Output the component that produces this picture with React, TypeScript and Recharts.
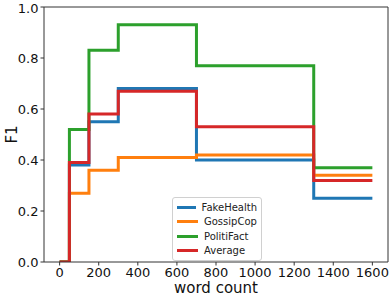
import React from 'react';
import { LineChart, Line, XAxis, YAxis, Legend, ReferenceLine } from 'recharts';

const wordCounts = [0, 50, 150, 300, 700, 1300, 1600];
const fakeHealth = [0, 0.38, 0.55, 0.68, 0.40, 0.25, 0.25];
const gossipCop = [0, 0.27, 0.36, 0.41, 0.42, 0.34, 0.34];
const politiFact = [0, 0.52, 0.83, 0.93, 0.77, 0.37, 0.37];
const average = [0, 0.39, 0.58, 0.67, 0.53, 0.32, 0.32];

const xTicks = [0, 200, 400, 600, 800, 1000, 1200, 1400, 1600];
const yTicks = [0, 0.2, 0.4, 0.6, 0.8, 1.0];

const SERIES = [
  { key: 'fakeHealth', name: 'FakeHealth', color: '#1f77b4' },
  { key: 'gossipCop', name: 'GossipCop', color: '#ff7f0e' },
  { key: 'politiFact', name: 'PolitiFact', color: '#2ca02c' },
  { key: 'average', name: 'Average', color: '#d62728' },
];

const data = wordCounts.map((x, i) => ({
  x,
  fakeHealth: fakeHealth[i],
  gossipCop: gossipCop[i],
  politiFact: politiFact[i],
  average: average[i],
}));

const X_DOMAIN = [-80, 1680];
const FONT = '"DejaVu Sans", sans-serif';
const AXIS = '#333';

const renderLegend = () => (
  <div
    style={{
      border: '1px solid #d0d0d0',
      borderRadius: 3,
      background: 'rgba(255,255,255,0.8)',
      padding: '2px 4px',
      fontFamily: FONT,
      fontSize: 10,
      color: '#222',
      boxSizing: 'border-box',
      width: 90,
    }}
  >
    {SERIES.map((s) => (
      <div key={s.key} style={{ display: 'flex', alignItems: 'center', height: 14.5 }}>
        <span style={{ display: 'inline-block', width: 21, height: 3, background: s.color, marginRight: 6 }} />
        <span>{s.name}</span>
      </div>
    ))}
  </div>
);

export default function App() {
  return (
    <div style={{ position: 'absolute', left: 0, top: 0, background: '#fff' }}>
      <LineChart width={390} height={298} data={data} margin={{ top: 7, right: 2, bottom: 0, left: 0 }}>
        <XAxis
          dataKey="x"
          type="number"
          domain={X_DOMAIN}
          ticks={xTicks}
          allowDataOverflow
          stroke={AXIS}
          tickSize={3.5}
          tick={{ fill: '#111', fontSize: 13, fontFamily: FONT }}
          height={36}
          label={({ viewBox }: any) => (
            <text
              x={viewBox.x + viewBox.width / 2}
              y={293}
              textAnchor="middle"
              fontSize={15}
              fontFamily={FONT}
              fill="#111"
            >
              word count
            </text>
          )}
        />
        <YAxis
          type="number"
          domain={[0, 1]}
          ticks={yTicks}
          allowDataOverflow
          stroke={AXIS}
          width={44}
          tickSize={3.5}
          tickFormatter={(v: number) => v.toFixed(1)}
          tick={{ fill: '#111', fontSize: 13, fontFamily: FONT }}
          label={({ viewBox }: any) => (
            <text
              x={17}
              y={viewBox.y + viewBox.height / 2}
              transform={`rotate(-90, 17, ${viewBox.y + viewBox.height / 2})`}
              textAnchor="middle"
              fontSize={15}
              fontFamily={FONT}
              fill="#111"
            >
              F1
            </text>
          )}
        />
        <ReferenceLine y={1} stroke={AXIS} strokeWidth={1} ifOverflow="extendDomain" />
        <ReferenceLine x={X_DOMAIN[1]} stroke={AXIS} strokeWidth={1} ifOverflow="extendDomain" />
        {SERIES.map((s) => (
          <Line
            key={s.key}
            type="stepAfter"
            dataKey={s.key}
            name={s.name}
            stroke={s.color}
            strokeWidth={3}
            dot={false}
            isAnimationActive={false}
          />
        ))}
        <Legend
          layout="vertical"
          align="center"
          verticalAlign="middle"
          content={renderLegend}
          wrapperStyle={{ position: 'absolute', left: 172, top: 197, width: 90, height: 62 }}
        />
      </LineChart>
    </div>
  );
}
